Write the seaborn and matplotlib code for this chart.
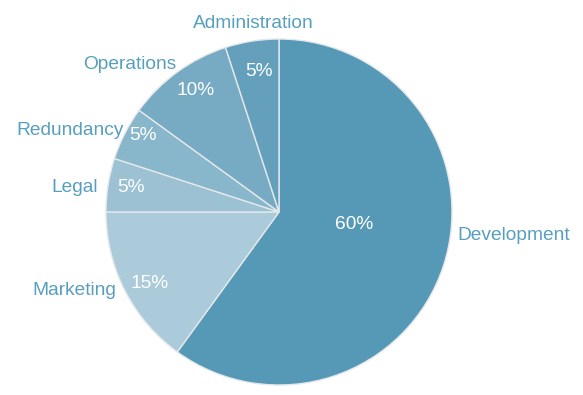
import matplotlib
matplotlib.use("Agg")
import matplotlib.pyplot as plt
import seaborn as sns
import numpy as np

categories = ["Development", "Marketing", "Legal", "Redundancy", "Operations", "Administration"]
values = [60, 15, 5, 5, 10, 5]
pct_labels = ["60%", "15%", "5%", "5%", "10%", "5%"]

sns.set_theme(style="white")
plt.rcParams['font.family'] = ['Liberation Sans', 'DejaVu Sans']

colors = sns.color_palette(["#5599b6", "#abcbdb", "#9bc1d3", "#88b6cb", "#76abc3", "#64a0bc"])
label_color = "#579fbe"

W, H = 583, 395
fig = plt.figure(figsize=(W / 100, H / 100), dpi=100)
cx, cy, r = 279, 212, 173
ax = fig.add_axes([(cx - r) / W, (H - cy - r) / H, 2 * r / W, 2 * r / H])

wedges, texts = ax.pie(values, colors=colors, startangle=90, counterclock=False,
                       radius=1.0, wedgeprops=dict(edgecolor="#e4e8ea", linewidth=1.0))
ax.set_xlim(-1, 1)
ax.set_ylim(-1, 1)
ax.set_aspect("equal")
ax.axis("off")

# label placement (angle shift from slice middle, radial distance)
label_dist = [1.04, 1.04, 1.06, 1.02, 1.05, 1.11]
label_angle_shift = [11.3, -1.7, 0.6, -1.3, -1.5, -1.2]
pct_dist = [0.44, 0.85, 0.87, 0.91, 0.86, 0.83]
pct_angle_shift = [10, 1, -1, -3, -2, -1]
dy = -0.012

for w, name, pl, ld, la, pd, pa in zip(wedges, categories, pct_labels, label_dist,
                                        label_angle_shift, pct_dist, pct_angle_shift):
    mid = np.deg2rad((w.theta1 + w.theta2) / 2 + la)
    x, y = ld * np.cos(mid), ld * np.sin(mid) + dy
    ha = "left" if x > 0.2 else ("right" if x < -0.2 else "center")
    ax.text(x, y, name, ha=ha, va="center", fontsize=13.8, color=label_color)
    midp = np.deg2rad((w.theta1 + w.theta2) / 2 + pa)
    ax.text(pd * np.cos(midp), pd * np.sin(midp) + dy, pl, ha="center", va="center",
            fontsize=13.8, color="white")

fig.savefig("out.png", dpi=100)
